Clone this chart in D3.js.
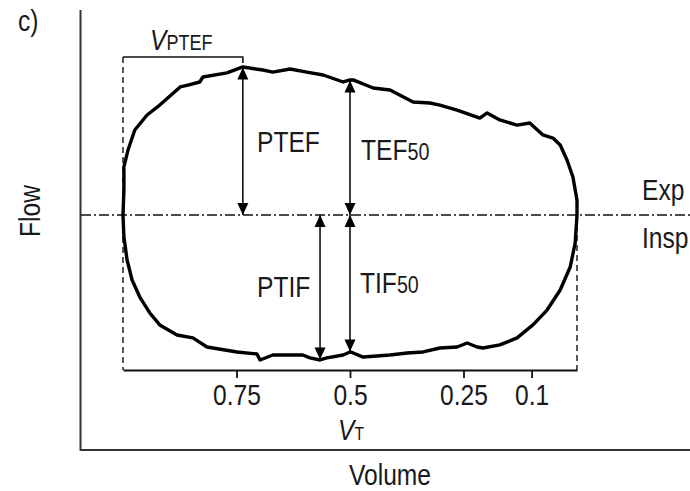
<!DOCTYPE html>
<html>
<head>
<meta charset="utf-8">
<script src="https://cdn.jsdelivr.net/npm/d3@7"></script>
<style>
  html, body { margin: 0; padding: 0; background: #fff; }
  svg { display: block; }
  text { font-family: "Liberation Sans", Arial, sans-serif; fill: #1a1a1a; }
</style>
</head>
<body>
<svg id="chart" width="690" height="491"></svg>
<script>
// Tidal flow-volume loop: volume as fraction of tidal volume (1 = start of expiration),
// flow in relative units (positive = expiration).
const expVolume = [1.0, 0.998, 0.998, 0.989, 0.974, 0.947, 0.919, 0.874, 0.857, 0.831, 0.824, 0.771,
  0.736, 0.692, 0.670, 0.632, 0.595, 0.559, 0.515, 0.500, 0.493, 0.449, 0.412, 0.361, 0.324, 0.302,
  0.264, 0.214, 0.198, 0.170, 0.132, 0.104, 0.075, 0.053, 0.037, 0.022, 0.009, 0.0, 0.0];
const expFlow = [0, 0.171, 0.329, 0.445, 0.582, 0.685, 0.753, 0.877, 0.890, 0.911, 0.945, 0.973,
  1.014, 0.993, 0.979, 1.000, 0.979, 0.959, 0.911, 0.925, 0.925, 0.870, 0.856, 0.774, 0.767, 0.753,
  0.719, 0.664, 0.699, 0.651, 0.616, 0.630, 0.548, 0.527, 0.479, 0.377, 0.260, 0.103, 0];

const inspVolume = [0.0, 0.004, 0.015, 0.037, 0.066, 0.097, 0.132, 0.170, 0.207, 0.220, 0.242, 0.264,
  0.302, 0.339, 0.374, 0.412, 0.471, 0.493, 0.500, 0.515, 0.551, 0.566, 0.588, 0.604, 0.670, 0.698,
  0.705, 0.749, 0.815, 0.846, 0.881, 0.919, 0.941, 0.963, 0.980, 0.991, 0.998, 1.0];
const inspFlow = [0, -0.192, -0.356, -0.514, -0.651, -0.753, -0.842, -0.890, -0.911, -0.904, -0.877, -0.904,
  -0.911, -0.938, -0.945, -0.959, -0.973, -0.945, -0.938, -0.959, -0.979, -0.993, -0.979, -0.959, -0.959, -0.993,
  -0.952, -0.938, -0.904, -0.842, -0.822, -0.753, -0.671, -0.562, -0.445, -0.308, -0.151, 0];

const volumeTicks = [0.75, 0.5, 0.25, 0.1];
const midVolume = 0.5;

const svg = d3.select("#chart");
const x = d3.scaleLinear().domain([1, 0]).range([123, 577]);
const y = d3.scaleLinear().domain([-1, 1]).range([361, 69]);
const bracketY = 370;
const narrow = 0.82; // horizontal condensing for the narrow typeface look

const expPts = expVolume.map((v, i) => [v, expFlow[i]]);
const inspPts = inspVolume.map((v, i) => [v, inspFlow[i]]);

// Characteristic points
const peakExp = expPts.reduce((a, b) => (b[1] > a[1] ? b : a));
const peakInsp = inspPts.reduce((a, b) => (b[1] < a[1] ? b : a));
const tef50 = expPts.find(p => p[0] === midVolume);
const tif50 = inspPts.find(p => p[0] === midVolume);

// Outer axes
svg.append("line").attr("x1", 80.5).attr("x2", 80.5).attr("y1", 10).attr("y2", 451)
  .attr("stroke", "#333").attr("stroke-width", 2);
svg.append("line").attr("x1", 80).attr("x2", 690).attr("y1", 450).attr("y2", 450)
  .attr("stroke", "#333").attr("stroke-width", 2);

// Zero-flow line
svg.append("line").attr("x1", 81).attr("x2", 690).attr("y1", y(0)).attr("y2", y(0))
  .attr("stroke", "#111").attr("stroke-width", 1.4).attr("stroke-dasharray", "10,3,2,3");

// Dashed volume limits
svg.append("line").attr("x1", x(1)).attr("x2", x(1)).attr("y1", 57).attr("y2", bracketY)
  .attr("stroke", "#111").attr("stroke-width", 1.4).attr("stroke-dasharray", "6,4");
svg.append("line").attr("x1", x(0)).attr("x2", x(0)).attr("y1", y(0)).attr("y2", bracketY)
  .attr("stroke", "#111").attr("stroke-width", 1.4).attr("stroke-dasharray", "6,4");

// Tidal volume bracket with fractional ticks
const axis = d3.axisBottom(x).tickValues(volumeTicks).tickSize(8).tickSizeOuter(0)
  .tickPadding(6).tickFormat(d => String(d));
const gAxis = svg.append("g").attr("transform", `translate(0,${bracketY})`).call(axis);
gAxis.select(".domain").attr("stroke", "#111").attr("stroke-width", 1.8);
gAxis.selectAll(".tick line").attr("stroke", "#111").attr("stroke-width", 1.8);
gAxis.selectAll(".tick text").attr("font-size", 30)
  .attr("font-family", "'Liberation Sans', Arial, sans-serif")
  .attr("fill", "#1a1a1a")
  .attr("transform", `scale(${narrow},1)`);

// V_PTEF bracket
const topY = 57;
svg.append("path")
  .attr("d", `M${x(1)},${topY}H${x(peakExp[0])}V${topY + 6}`)
  .attr("fill", "none").attr("stroke", "#111").attr("stroke-width", 1.6);

// Loop
const line = d3.line().x(d => x(d[0])).y(d => y(d[1])).curve(d3.curveLinear);
svg.append("path").datum(expPts.concat(inspPts.slice(1)))
  .attr("d", line)
  .attr("fill", "none").attr("stroke", "#000").attr("stroke-width", 3.4)
  .attr("stroke-linejoin", "round");

// Double-headed arrows from zero flow to the characteristic points
function arrow(v, f) {
  const ax = x(v), y0 = y(0), y1 = y(f);
  const dir = y1 < y0 ? -1 : 1;
  const hl = 12, hw = 5.5;
  svg.append("line").attr("x1", ax).attr("x2", ax).attr("y1", y0).attr("y2", y1)
    .attr("stroke", "#000").attr("stroke-width", 1.5);
  const head = (tipY, d) => `M${ax},${tipY}L${ax - hw},${tipY - d * hl}L${ax + hw},${tipY - d * hl}Z`;
  svg.append("path").attr("d", head(y1 - dir * 0.5, dir)).attr("fill", "#000");
  svg.append("path").attr("d", head(y0, -dir)).attr("fill", "#000");
}
arrow(peakExp[0], peakExp[1]);
arrow(tef50[0], tef50[1]);
arrow(peakInsp[0], peakInsp[1]);
arrow(tif50[0], tif50[1]);

// Labels (condensed horizontally around their anchor)
function label(px, py, parts, anchor, extra) {
  const t = svg.append("text")
    .attr("transform", `translate(${px},${py})${extra || ""} scale(${narrow},1)`)
    .attr("text-anchor", anchor || "start");
  parts.forEach(p => {
    const s = t.append("tspan").text(p.t).attr("font-size", p.s || 30);
    if (p.i) s.attr("font-style", "italic");
  });
  return t;
}
label(18, 31, [{ t: "c)" }]);
label(150, 50, [{ t: "V", i: true }, { t: "PTEF", s: 22 }]);
label(257, 152, [{ t: "PTEF" }]);
label(361, 160, [{ t: "TEF" }, { t: "50", s: 24 }]);
label(257, 297, [{ t: "PTIF" }]);
label(360, 293, [{ t: "TIF" }, { t: "50", s: 24 }]);
label(642, 200, [{ t: "Exp" }]);
label(642, 248, [{ t: "Insp" }]);
label(x(midVolume) + 1, 440, [{ t: "V", i: true }, { t: "T", s: 19 }], "middle");
label(390, 485, [{ t: "Volume", s: 30 }], "middle");
label(40, 211, [{ t: "Flow" }], "middle", " rotate(-90)");
</script>
</body>
</html>
